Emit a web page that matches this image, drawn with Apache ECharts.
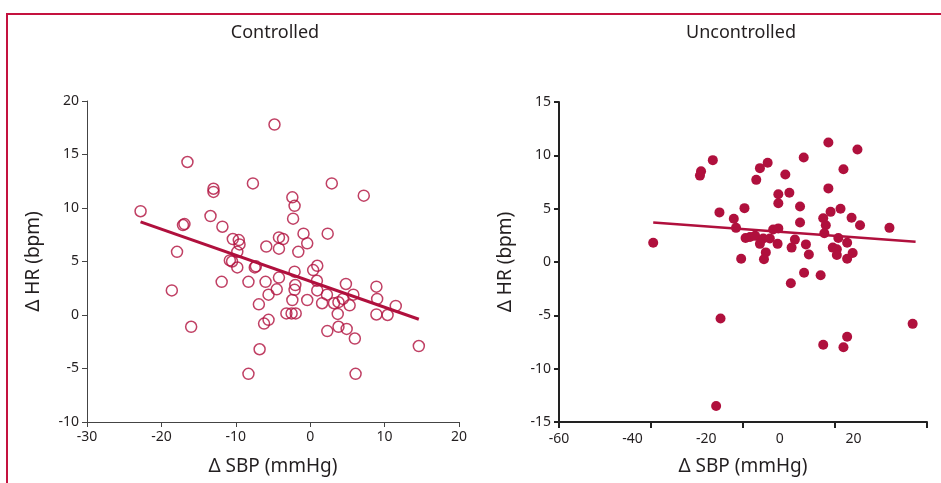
<!DOCTYPE html>
<html>
<head>
<meta charset="utf-8">
<script src="https://cdn.jsdelivr.net/npm/echarts@6/dist/echarts.min.js"></script>
<style>
html,body{margin:0;padding:0;background:#fff;}
#frame{position:absolute;left:6px;top:13px;width:960px;height:500px;border-top:2px solid #c4123f;border-left:2px solid #c4123f;}
#chart{position:absolute;left:0;top:0;width:941px;height:483px;}
</style>
</head>
<body>
<div id="frame"></div>
<div id="chart"></div>
<script>
const titles = ['Controlled', 'Uncontrolled'];
const xName = 'Δ SBP (mmHg)';
const yName = 'Δ HR (bpm)';

const controlledSBP = [-4.8,-16.5,-13.0,-13.0,-7.7,-22.8,-13.4,-11.8,-17.1,-16.9,-17.9,-10.4,-9.6,-9.5,-5.9,-9.8,-10.8,-10.5,-9.8,-7.45,-7.3,-11.9,-8.3,-6.0,-4.2,-4.5,-5.6,-18.6,-6.9,-5.6,-6.2,-16.0,-6.8,-8.3,2.9,7.2,-2.4,-2.1,-2.3,-0.9,2.35,-0.4,-4.2,-3.65,-4.2,-1.6,-2.1,0.4,0.95,-2.0,-2.1,-2.4,-0.4,0.9,0.95,1.6,2.25,4.8,3.2,3.8,4.4,5.8,5.3,3.7,-3.2,-2.5,-1.95,2.3,3.8,4.9,6.0,6.1,8.9,9.0,8.9,10.4,11.5,14.6];
const controlledHR = [17.8,14.3,11.8,11.5,12.3,9.7,9.25,8.25,8.4,8.5,5.9,7.1,7.0,6.6,6.4,5.9,5.1,5.0,4.45,4.45,4.55,3.1,3.1,3.1,3.5,2.4,1.9,2.3,1.0,-0.45,-0.8,-1.1,-3.2,-5.5,12.3,11.15,11.0,10.2,9.0,7.6,7.6,6.7,7.25,7.1,6.2,5.9,4.05,4.2,4.6,2.8,2.35,1.4,1.4,3.2,2.3,1.1,1.9,2.9,1.1,1.2,1.5,1.9,0.9,0.1,0.15,0.15,0.15,-1.5,-1.1,-1.3,-2.2,-5.5,2.65,1.5,0.05,0.0,0.85,-2.9];
const controlledFitSBP = [-22.8, 14.6];
const controlledFitHR = [8.7, -0.4];

const uncontrolledSBP = [-34.4,-18.2,-21.4,-21.7,-5.4,-3.3,-6.4,-16.4,-9.6,-12.5,-11.9,-9.3,-8.1,-6.7,-4.5,-2.7,-5.4,-0.6,-3.8,-10.5,-4.3,-1.8,-0.4,-16.1,-17.3,13.2,21.1,6.5,17.3,1.5,13.2,-0.4,-0.4,2.6,5.5,5.5,13.8,16.5,11.8,12.5,19.5,21.8,29.8,12.1,15.9,18.3,4.1,3.2,7.1,7.9,14.4,15.5,15.5,18.3,19.8,6.6,11.1,3.0,36.1,18.3,11.8,17.3];
const uncontrolledHR = [1.8,9.55,8.5,8.1,8.8,9.3,7.7,4.65,5.05,4.05,3.2,2.25,2.35,2.45,2.2,2.2,1.7,1.7,0.9,0.3,0.25,3.05,3.15,-5.3,-13.5,11.2,10.55,9.8,8.7,8.2,6.9,6.35,5.5,6.5,5.2,3.7,4.7,5.0,4.1,3.45,4.15,3.45,3.2,2.7,2.25,1.8,2.1,1.35,1.65,0.7,1.35,1.2,0.65,0.3,0.85,-1.0,-1.25,-2.0,-5.8,-7.0,-7.75,-8.0];
const uncontrolledFitSBP = [-34.4, 36.9];
const uncontrolledFitHR = [3.7, 1.9];

const leftXTicks = {min: -30, max: 20, interval: 10};
const leftYTicks = {min: -10, max: 20, interval: 5};
const rightXTicks = {min: -60, max: 40, interval: 20};
const rightYTicks = {min: -15, max: 15, interval: 5};

const zip = (a, b) => a.map((v, i) => [v, b[i]]);
const RED = '#b0103d';
const FONT = '"Noto Sans", "Open Sans", sans-serif';
const labelStyle = {color: '#231f20', fontSize: 14, fontFamily: FONT};
const nameStyle = {color: '#231f20', fontSize: 19, fontFamily: FONT};

const chart = echarts.init(document.getElementById('chart'), null, {renderer: 'canvas'});
chart.setOption({
  animation: false,
  graphic: [
    {type: 'text', x: 275, y: 33, style: {text: titles[0], align: 'center', verticalAlign: 'middle', textAlign: 'center', textVerticalAlign: 'middle', fill: '#231f20', font: '18px ' + FONT}},
    {type: 'text', x: 741, y: 33, style: {text: titles[1], align: 'center', verticalAlign: 'middle', textAlign: 'center', textVerticalAlign: 'middle', fill: '#231f20', font: '18px ' + FONT}}
  ],
  grid: [
    {left: 87, top: 101, width: 372, height: 321},
    {left: 559, top: 102, width: 368, height: 320}
  ],
  xAxis: [
    {type: 'value', gridIndex: 0, min: leftXTicks.min, max: leftXTicks.max, interval: leftXTicks.interval,
     name: xName, nameLocation: 'middle', nameGap: 35, nameTextStyle: nameStyle,
     axisLine: {show: true, onZero: false, lineStyle: {color: '#444', width: 1}},
     axisTick: {show: true, inside: false, length: 5, lineStyle: {color: '#444'}},
     axisLabel: Object.assign({margin: 8}, labelStyle), splitLine: {show: false}},
    {type: 'value', gridIndex: 1, min: rightXTicks.min, max: rightXTicks.max, interval: rightXTicks.interval,
     name: xName, nameLocation: 'middle', nameGap: 35, nameTextStyle: nameStyle,
     axisLine: {show: true, onZero: false, lineStyle: {color: '#222', width: 2}},
     axisTick: {show: false},
     axisLabel: Object.assign({margin: 10, formatter: v => v === 40 ? '' : String(v)}, labelStyle), splitLine: {show: false}},
    {type: 'value', gridIndex: 1, min: -60, max: 40, interval: 25, position: 'bottom',
     axisLine: {show: false, onZero: false}, axisTick: {show: true, length: 6, lineStyle: {color: '#222', width: 2}},
     axisLabel: {show: false}, splitLine: {show: false}}
  ],
  yAxis: [
    {type: 'value', gridIndex: 0, min: leftYTicks.min, max: leftYTicks.max, interval: leftYTicks.interval,
     name: yName, nameLocation: 'middle', nameGap: 44, nameTextStyle: nameStyle,
     axisLine: {show: true, onZero: false, lineStyle: {color: '#444', width: 1}},
     axisTick: {show: true, length: 5, lineStyle: {color: '#444'}},
     axisLabel: Object.assign({margin: 8}, labelStyle), splitLine: {show: false}},
    {type: 'value', gridIndex: 1, min: rightYTicks.min, max: rightYTicks.max, interval: rightYTicks.interval,
     name: yName, nameLocation: 'middle', nameGap: 44, nameTextStyle: nameStyle,
     axisLine: {show: true, onZero: false, lineStyle: {color: '#222', width: 2}},
     axisTick: {show: true, length: 5, lineStyle: {color: '#222', width: 2}},
     axisLabel: Object.assign({margin: 8}, labelStyle), splitLine: {show: false}}
  ],
  series: [
    {type: 'scatter', xAxisIndex: 0, yAxisIndex: 0, data: zip(controlledSBP, controlledHR),
     symbol: 'circle', symbolSize: 11,
     itemStyle: {color: 'rgba(255,255,255,0)', borderColor: RED, borderWidth: 1.5}},
    {type: 'line', xAxisIndex: 0, yAxisIndex: 0, data: zip(controlledFitSBP, controlledFitHR),
     showSymbol: false, symbol: 'none', lineStyle: {color: RED, width: 3}, z: 3},
    {type: 'scatter', xAxisIndex: 1, yAxisIndex: 1, data: zip(uncontrolledSBP, uncontrolledHR),
     symbol: 'circle', symbolSize: 10, itemStyle: {color: RED, opacity: 1}},
    {type: 'line', xAxisIndex: 1, yAxisIndex: 1, data: zip(uncontrolledFitSBP, uncontrolledFitHR),
     showSymbol: false, symbol: 'none', lineStyle: {color: RED, width: 2.5}, z: 3}
  ]
});
</script>
</body>
</html>
